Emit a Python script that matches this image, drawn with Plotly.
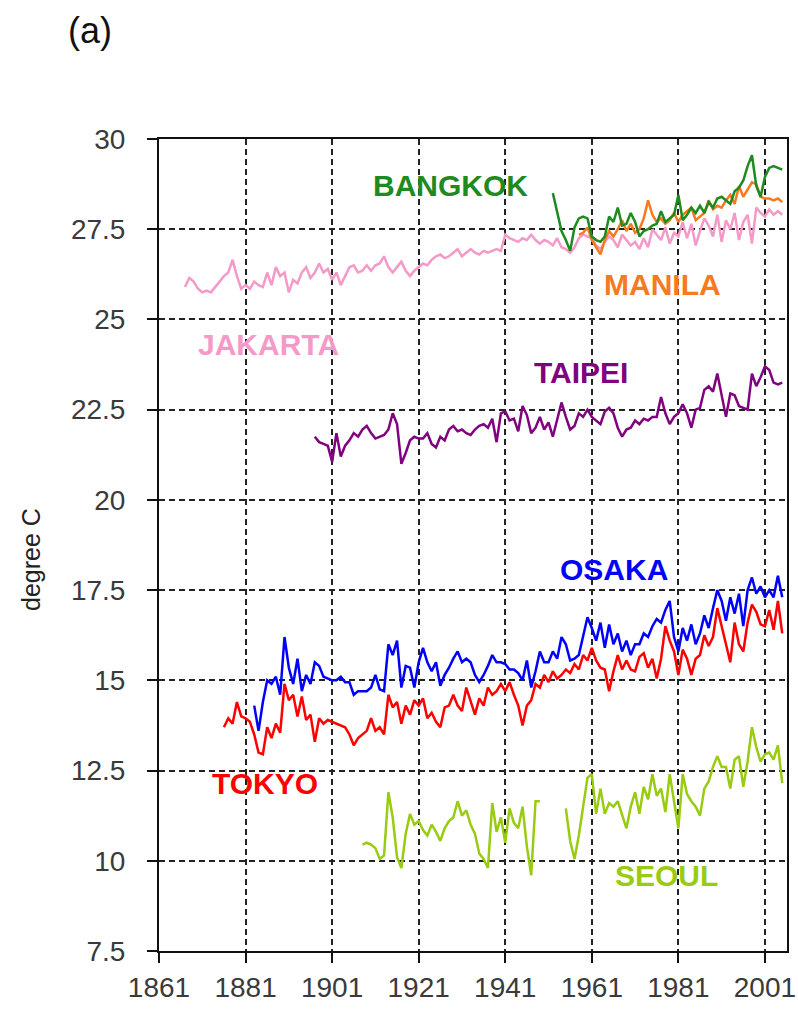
import plotly.graph_objects as go

# ---------------- data (annual mean temperature, degree C) ----------------
tokyo_start = 1876
tokyo = [13.7, 13.95, 13.8, 14.4,
         14.0, 13.95, 13.85, 13.5, 13.0, 12.95, 13.7, 13.4, 13.8, 13.55,
         14.9, 14.45, 14.6, 14.0, 14.55, 13.9, 14.05, 13.3, 13.95, 13.8,
         13.9, 13.85, 13.8, 13.75, 13.7, 13.5, 13.2, 13.4, 13.5, 13.6,
         13.95, 13.6, 13.7, 13.5, 14.6, 14.25, 14.4, 13.8, 14.3, 14.05,
         14.45, 14.3, 14.5, 13.95, 14.1, 13.85, 13.7, 14.25, 14.3, 14.6,
         14.3, 14.15, 14.8, 14.4, 14.05, 14.5, 14.3, 14.8, 14.6, 14.7,
         14.9, 14.7, 14.95, 14.6, 14.3, 13.75, 14.3, 14.45, 14.9, 14.8,
         15.15, 14.95, 15.25, 15.05, 15.15, 15.3, 15.2, 15.45, 15.3, 15.7,
         15.55, 15.9, 15.55, 15.35, 15.3, 14.7, 15.25, 15.7, 15.3, 15.55,
         15.3, 15.25, 15.65, 15.75, 15.35, 15.6, 15.05, 15.6, 16.5, 16.1,
         15.8, 15.15, 15.85, 15.6, 15.15, 15.6, 15.7, 16.25, 15.95, 16.2,
         17.0, 16.5, 16.0, 15.5, 16.6, 16.0, 15.8, 16.6, 17.1, 16.9,
         16.55, 16.5, 16.95, 16.4, 17.2, 16.3]

osaka_start = 1883
osaka = [14.3, 13.6, 14.4, 15.0, 14.9, 15.1, 14.6,
         16.2, 15.35, 14.9, 15.6, 14.7, 15.15, 14.9, 15.5, 15.4, 15.1,
         15.05, 15.0, 15.0, 15.1, 14.95, 14.95, 14.6, 14.7, 14.7, 14.7,
         14.8, 15.15, 14.75, 14.7, 16.0, 15.7, 16.1, 14.8, 15.4, 15.35,
         14.8, 15.5, 15.9, 15.5, 15.25, 15.5, 14.85, 15.15, 15.35, 15.6,
         15.8, 15.5, 15.6, 15.5, 15.15, 14.95, 15.15, 15.4, 15.7, 15.5,
         15.5, 15.45, 15.3, 15.3, 15.2, 15.0, 15.55, 14.8, 15.25, 15.8,
         15.5, 15.5, 15.8, 15.6, 16.2, 16.0, 15.55, 15.6, 15.7, 16.2,
         16.75, 16.45, 16.1, 16.6, 15.9, 16.55, 16.0, 16.3, 15.8, 16.1,
         15.7, 16.0, 16.0, 16.3, 16.2, 16.5, 16.7, 16.6, 16.95, 17.2,
         16.2, 15.8, 16.45, 16.1, 16.55, 16.0, 16.3, 16.8, 16.45, 17.0,
         17.5, 17.2, 16.65, 17.3, 16.85, 17.4, 16.5, 17.5, 17.85, 17.4,
         17.6, 17.3, 17.5, 17.3, 17.9, 17.3]

seoul_start = 1908
seoul = [10.45, 10.5,
         10.45, 10.35, 10.05, 10.15, 11.9, 11.2, 10.1, 9.8, 10.75, 11.3,
         11.0, 11.1, 10.85, 10.7, 11.0, 10.8, 10.55, 10.9, 11.1, 11.2,
         11.65, 11.25, 11.4, 11.0, 10.75, 10.2, 10.05, 9.8, 11.6, 10.8,
         11.2, 10.5, 11.45, 11.05, 10.9, 11.5, 10.4, 9.6, 11.65, 11.65,
         None, None, None, None, None, 11.45, 10.55, 10.05, 10.7, 11.5,
         12.3, 12.4, 11.3, 12.0, 11.3, 11.6, 11.5, 11.65, 11.3, 10.9,
         11.5, 11.9, 11.3, 12.05, 11.7, 12.4, 11.8, 12.0, 11.35, 12.4,
         11.65, 10.9, 12.4, 11.85, 11.65, 11.5, 11.25, 12.0, 12.2, 12.6,
         12.9, 12.6, 12.6, 12.0, 12.8, 12.9, 12.05, 12.75, 13.7, 13.15,
         12.75, 12.95, 13.0, 12.8, 13.2, 12.15]

taipei_start = 1897
taipei = [21.75, 21.6, 21.55,
          21.5, 21.05, 21.85, 21.2, 21.5, 21.65, 21.85, 21.75, 21.95, 22.05,
          21.85, 21.7, 21.75, 21.8, 21.95, 22.4, 22.1, 21.0, 21.3, 21.65,
          21.75, 21.7, 21.7, 21.85, 21.55, 21.45, 21.75, 21.65, 21.95, 22.05,
          21.9, 21.95, 21.85, 21.8, 21.95, 22.05, 22.1, 22.0, 22.25, 21.6,
          22.4, 22.45, 22.2, 22.25, 21.9, 22.6, 22.35, 21.85, 22.0, 22.3,
          21.95, 22.15, 21.75, 22.2, 22.7, 22.3, 21.95, 22.05, 22.4, 22.3,
          22.5, 22.3, 22.2, 22.1, 22.45, 22.55, 22.4, 22.0, 21.75, 21.95,
          22.0, 22.2, 22.1, 22.25, 22.2, 22.3, 22.3, 22.85, 22.4, 22.1,
          22.3, 22.4, 22.65, 22.4, 22.0, 22.5, 22.55, 23.05, 23.15, 23.0,
          23.5, 22.9, 22.3, 22.95, 22.9, 22.6, 22.55, 22.5, 23.5, 23.15,
          23.4, 23.7, 23.6, 23.25, 23.2, 23.25]

jakarta_start = 1867
jakarta = [25.9, 26.15, 26.05,
           25.85, 25.75, 25.8, 25.75, 25.9, 26.05, 26.2, 26.3, 26.65, 26.2,
           25.85, 25.95, 25.85, 26.05, 25.95, 25.9, 26.3, 25.95, 26.45, 26.2,
           26.3, 25.75, 26.1, 26.0, 26.3, 26.45, 26.15, 26.3, 26.55, 26.3,
           26.4, 26.1, 26.3, 25.95, 26.2, 26.45, 26.5, 26.3, 26.35, 26.5,
           26.35, 26.5, 26.55, 26.75, 26.45, 26.3, 26.45, 26.6, 26.35, 26.2,
           26.35, 26.45, 26.55, 26.5, 26.65, 26.75, 26.8, 26.7, 26.75, 26.85,
           26.95, 26.75, 26.85, 26.95, 26.85, 26.8, 26.9, 26.85, 26.9, 26.95,
           26.9, 27.35, 27.25, 27.2, 27.15, 27.25, 27.2, 27.35, 27.2, 27.1,
           27.2, 27.15, 27.05, 27.25, 27.0, 26.95, 26.85, 27.0, 27.25, 27.35,
           27.3, 27.25, 27.05, 26.95, 27.15, 27.3, 27.2, 27.0, 27.35, 27.2,
           27.05, 27.15, 26.95, 27.25, 27.0, 27.5, 27.35, 27.2, 27.55, 27.1,
           27.4, 27.3, 27.7, 27.25, 27.65, 27.05, 27.45, 27.8, 27.6, 27.3,
           27.9, 27.15, 27.75, 27.5, 27.95, 27.2, 27.7, 27.9, 27.1, 28.1,
           27.95, 27.85, 28.05, 27.9, 28.0, 27.9]

manila_start = 1958
manila = [27.35, 27.4,
          27.55, 27.2, 27.0, 26.8, 27.2, 27.45, 27.3, 27.5, 27.75, 27.45,
          27.65, 27.4, 27.5, 27.8, 28.3, 27.9, 27.7, 27.8, 27.65, 27.75,
          27.95, 27.7, 27.9, 28.0, 28.1, 27.75, 27.85, 27.95, 28.3, 28.05,
          28.15, 28.1, 28.3, 28.45, 28.2, 28.7, 28.4, 28.6, 28.8, 28.75,
          28.4, 28.35, 28.35, 28.3, 28.35, 28.25]

bangkok_start = 1952
bangkok = [28.5, 28.0, 27.45, 27.2, 26.9, 27.55, 27.8, 27.85,
           27.8, 27.3, 27.2, 27.15, 27.3, 27.85, 27.7, 28.1, 27.6, 27.65,
           27.95, 27.7, 27.3, 27.45, 27.5, 27.6, 27.65, 28.0, 27.7, 27.8,
           27.9, 28.45, 27.75, 27.9, 28.1, 27.95, 28.15, 27.95, 28.25, 28.1,
           28.35, 28.4, 28.3, 28.2, 28.55, 28.65, 28.85, 29.25, 29.55, 28.7,
           28.4, 28.95, 29.2, 29.25, 29.2, 29.15]

x_ticks = [1861, 1881, 1901, 1921, 1941, 1961, 1981, 2001]
y_ticks = [7.5, 10, 12.5, 15, 17.5, 20, 22.5, 25, 27.5, 30]
y_tick_text = ["7.5", "10", "12.5", "15", "17.5", "20", "22.5", "25", "27.5", "30"]

# ---------------- figure ----------------
W, H = 798, 1009
L, R, T, B = 159, 787, 139, 951

series = [
    ("SEOUL", seoul_start, seoul, "#99cc11"),
    ("OSAKA", osaka_start, osaka, "#0000ff"),
    ("TOKYO", tokyo_start, tokyo, "#ff0000"),
    ("TAIPEI", taipei_start, taipei, "#800080"),
    ("JAKARTA", jakarta_start, jakarta, "#f59ac8"),
    ("MANILA", manila_start, manila, "#f77a1e"),
    ("BANGKOK", bangkok_start, bangkok, "#1f8a1f"),
]

fig = go.Figure()
for name, start, vals, color in series:
    years = list(range(start, start + len(vals)))
    fig.add_trace(go.Scatter(x=years, y=vals, mode="lines", name=name,
                             line=dict(color=color, width=2.5),
                             connectgaps=False, showlegend=False,
                             hoverinfo="skip"))


def px(xp, yp):
    return (xp - L) / (R - L), (B - yp) / (B - T)


labels = [
    ("BANGKOK", 450, 185, "#1f8a1f"),
    ("MANILA", 662, 284, "#f77a1e"),
    ("JAKARTA", 268, 344, "#f59ac8"),
    ("TAIPEI", 581, 372, "#800080"),
    ("OSAKA", 614, 569, "#0000ff"),
    ("TOKYO", 265, 783, "#ff0000"),
    ("SEOUL", 666, 875, "#99cc11"),
]
for txt, xp, yp, c in labels:
    ax, ay = px(xp, yp)
    fig.add_annotation(x=ax, y=ay, xref="paper", yref="paper", text="<b>%s</b>" % txt,
                       showarrow=False, xanchor="center", yanchor="middle",
                       font=dict(family="Liberation Sans, Arial", size=30, color=c))

ax, ay = px(90, 30)
fig.add_annotation(x=ax, y=ay, xref="paper", yref="paper", text="(a)", showarrow=False,
                   xanchor="center", yanchor="middle",
                   font=dict(family="Liberation Sans, Arial", size=36, color="#111"))
ax, ay = px(31, 560)
fig.add_annotation(x=ax, y=ay, xref="paper", yref="paper", text="degree C", showarrow=False,
                   xanchor="center", yanchor="middle", textangle=-90,
                   font=dict(family="Liberation Sans, Arial", size=25, color="#222"))

axis_common = dict(
    showline=True, linecolor="#111", linewidth=2, mirror=True,
    showgrid=True, gridcolor="#222", gridwidth=1.8, griddash="6px,4px",
    ticks="outside", ticklen=10, tickwidth=2, tickcolor="#111",
    zeroline=False, automargin=False,
    tickfont=dict(family="Liberation Sans, Arial", size=28, color="#3a3a3a"),
)

fig.update_xaxes(range=[1861, 2006.1], tickmode="array", tickvals=x_ticks,
                 ticktext=[str(v) for v in x_ticks], ticklabelstandoff=0, **axis_common)
fig.update_yaxes(range=[7.5, 30], tickmode="array", tickvals=y_ticks,
                 ticktext=y_tick_text, ticklabelstandoff=16, **axis_common)

fig.update_layout(width=W, height=H,
                  margin=dict(l=L, r=W - R, t=T, b=H - B, pad=0),
                  paper_bgcolor="white", plot_bgcolor="white",
                  showlegend=False)

fig.write_html("out.html")
